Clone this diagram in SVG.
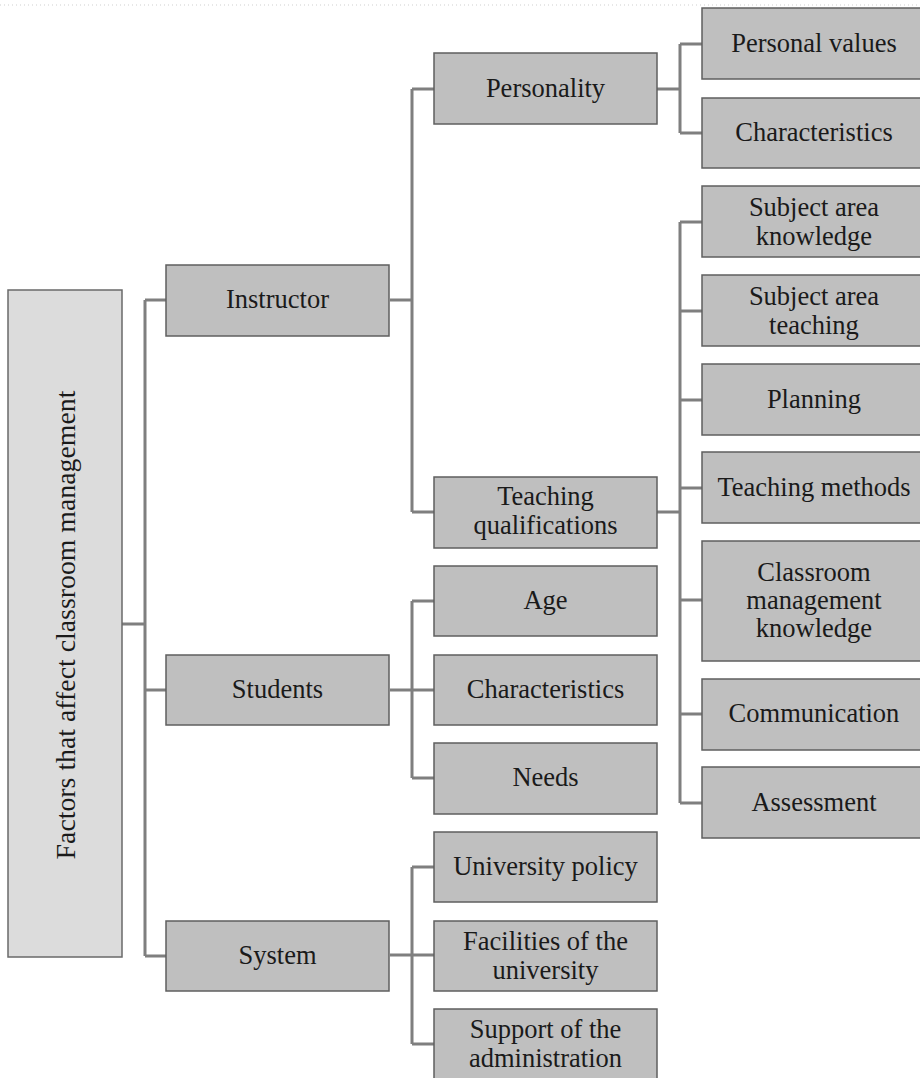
<svg xmlns="http://www.w3.org/2000/svg" width="920" height="1078" viewBox="0 0 920 1078">
<style>
.box{fill:#bfbfbf;stroke:#5f5f5f;stroke-width:1.5}
.root{fill:#dcdcdc;stroke:#6a6a6a;stroke-width:1.5}
.lbl{font-family:"Liberation Serif","Times New Roman",serif;font-size:26.5px;fill:#1a1a1a;text-anchor:middle}
.conn{fill:none;stroke:#7f7f7f;stroke-width:3}
</style>
<rect width="920" height="1078" fill="#ffffff"/>
<line x1="0" y1="5" x2="920" y2="5" stroke="#cfcfcf" stroke-width="1" stroke-dasharray="1 3"/>
<g id="connectors">
<path class="conn" d="M122 624H145M145 300V956M145 300H166M145 690H166M145 956H166"/>
<path class="conn" d="M390 300H412M412 89V512M412 89H434M412 512H434"/>
<path class="conn" d="M390 690H412M412 601V778M412 601H434M412 690H434M412 778H434"/>
<path class="conn" d="M390 955H412M412 867V1044M412 867H434M412 955H434M412 1044H434"/>
<path class="conn" d="M657 89H680M680 44V133M680 44H702M680 133H702"/>
<path class="conn" d="M657 512H680M680 222V803M680 222H702M680 311H702M680 400H702M680 488H702M680 600H702M680 714H702M680 803H702"/>
</g>
<g id="root"><rect class="root" x="8" y="290" width="114" height="667"/><text class="lbl" style="font-size:27.8px" transform="translate(75 625) rotate(-90)" x="0" y="0">Factors that affect classroom management</text></g>
<g id="instructor"><rect class="box" x="166" y="265" width="223" height="71"/><text class="lbl" x="277.5" y="308">Instructor</text></g>
<g id="students"><rect class="box" x="166" y="655" width="223" height="70"/><text class="lbl" x="277.5" y="698">Students</text></g>
<g id="system"><rect class="box" x="166" y="921" width="223" height="70"/><text class="lbl" x="277.5" y="964">System</text></g>
<g id="personality"><rect class="box" x="434" y="53" width="223" height="71"/><text class="lbl" x="545.5" y="97">Personality</text></g>
<g id="teaching-qualifications"><rect class="box" x="434" y="477" width="223" height="71"/><text class="lbl" x="545.5" y="505">Teaching</text><text class="lbl" x="545.5" y="534">qualifications</text></g>
<g id="age"><rect class="box" x="434" y="566" width="223" height="70"/><text class="lbl" x="545.5" y="609">Age</text></g>
<g id="student-characteristics"><rect class="box" x="434" y="655" width="223" height="70"/><text class="lbl" x="545.5" y="698">Characteristics</text></g>
<g id="needs"><rect class="box" x="434" y="743" width="223" height="71"/><text class="lbl" x="545.5" y="786">Needs</text></g>
<g id="university-policy"><rect class="box" x="434" y="832" width="223" height="70"/><text class="lbl" x="545.5" y="875">University policy</text></g>
<g id="facilities"><rect class="box" x="434" y="921" width="223" height="70"/><text class="lbl" x="545.5" y="950">Facilities of the</text><text class="lbl" x="545.5" y="979">university</text></g>
<g id="support"><rect class="box" x="434" y="1009" width="223" height="75"/><text class="lbl" x="545.5" y="1038">Support of the</text><text class="lbl" x="545.5" y="1067">administration</text></g>
<g id="personal-values"><rect class="box" x="702" y="8" width="224" height="71"/><text class="lbl" x="814" y="52">Personal values</text></g>
<g id="personality-characteristics"><rect class="box" x="702" y="98" width="224" height="70"/><text class="lbl" x="814" y="141">Characteristics</text></g>
<g id="subject-area-knowledge"><rect class="box" x="702" y="186" width="224" height="71"/><text class="lbl" x="814" y="216">Subject area</text><text class="lbl" x="814" y="245">knowledge</text></g>
<g id="subject-area-teaching"><rect class="box" x="702" y="275" width="224" height="71"/><text class="lbl" x="814" y="305">Subject area</text><text class="lbl" x="814" y="334">teaching</text></g>
<g id="planning"><rect class="box" x="702" y="364" width="224" height="71"/><text class="lbl" x="814" y="408">Planning</text></g>
<g id="teaching-methods"><rect class="box" x="702" y="452" width="224" height="71"/><text class="lbl" x="814" y="496">Teaching methods</text></g>
<g id="classroom-management-knowledge"><rect class="box" x="702" y="541" width="224" height="120"/><text class="lbl" x="814" y="581">Classroom</text><text class="lbl" x="814" y="609">management</text><text class="lbl" x="814" y="637">knowledge</text></g>
<g id="communication"><rect class="box" x="702" y="679" width="224" height="71"/><text class="lbl" x="814" y="722">Communication</text></g>
<g id="assessment"><rect class="box" x="702" y="767" width="224" height="71"/><text class="lbl" x="814" y="811">Assessment</text></g>
</svg>
